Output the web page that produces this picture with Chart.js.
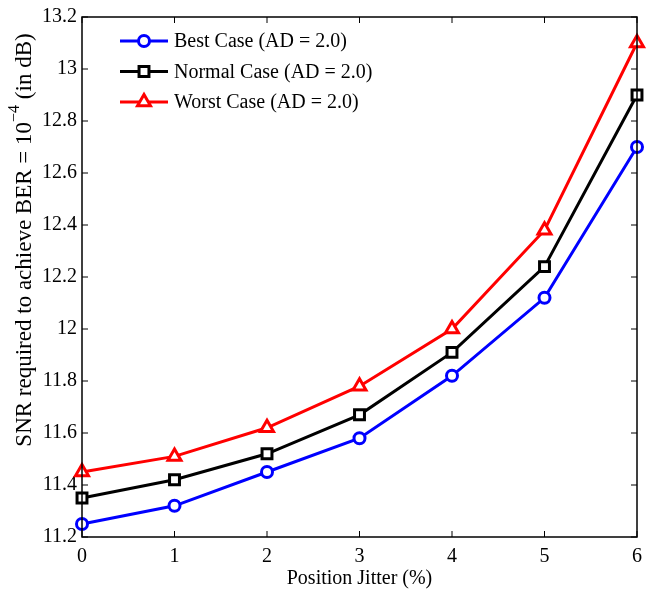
<!DOCTYPE html>
<html>
<head>
<meta charset="utf-8">
<script src="https://cdn.jsdelivr.net/npm/chart.js@4/dist/chart.umd.min.js"></script>
<style>
  html, body { margin: 0; padding: 0; background: #fff; }
  #wrap { width: 665px; height: 597px; }
</style>
</head>
<body>
<div id="wrap"><canvas id="myChart" width="665" height="597"></canvas></div>
<script>
/*** Data ***/
const jitter = [0, 1, 2, 3, 4, 5, 6];
const bestCase = [11.25, 11.32, 11.45, 11.58, 11.82, 12.12, 12.70];
const normalCase = [11.35, 11.42, 11.52, 11.67, 11.91, 12.24, 12.90];
const worstCase = [11.45, 11.51, 11.62, 11.78, 12.00, 12.38, 13.10];
const seriesLabels = ["Best Case (AD = 2.0)", "Normal Case (AD = 2.0)", "Worst Case (AD = 2.0)"];
const yMin = 11.2, yMax = 13.2, yStep = 0.2;

const FONT = "'Liberation Serif', 'Times New Roman', serif";

function toPoints(values) {
    return jitter.map((x, i) => ({ x: x, y: values[i] }));
}

// frame, inner ticks, y title and legend
const decorPlugin = {
    id: "decor",
    afterDraw(chart) {
        const ctx = chart.ctx;
        const a = chart.chartArea;
        const xs = chart.scales.x, ys = chart.scales.y;
        ctx.save();
        ctx.strokeStyle = "#000";
        ctx.lineWidth = 1.5;
        ctx.strokeRect(a.left, a.top, a.right - a.left, a.bottom - a.top);

        // inner ticks
        ctx.lineWidth = 1;
        const tl = 6;
        ctx.beginPath();
        jitter.forEach((v) => {
            const px = xs.getPixelForValue(v);
            ctx.moveTo(px, a.bottom); ctx.lineTo(px, a.bottom - tl);
            ctx.moveTo(px, a.top); ctx.lineTo(px, a.top + tl);
        });
        for (let v = yMin; v <= yMax + 1e-9; v += yStep) {
            const py = ys.getPixelForValue(v);
            ctx.moveTo(a.left, py); ctx.lineTo(a.left + tl, py);
            ctx.moveTo(a.right, py); ctx.lineTo(a.right - tl, py);
        }
        ctx.stroke();

        // y axis title with superscript
        const main1 = "SNR required to achieve BER = 10";
        const sup = "\u22124";
        const main2 = " (in dB)";
        const big = "23px " + FONT, small = "16px " + FONT;
        ctx.fillStyle = "#000";
        ctx.font = big;
        const w1 = ctx.measureText(main1).width;
        const w3 = ctx.measureText(main2).width;
        ctx.font = small;
        const w2 = ctx.measureText(sup).width;
        const total = w1 + w2 + w3;
        ctx.translate(25, 240);
        ctx.rotate(-Math.PI / 2);
        ctx.textBaseline = "middle";
        ctx.textAlign = "left";
        let sx = -total / 2;
        ctx.font = big;
        ctx.fillText(main1, sx, 0);
        sx += w1;
        ctx.font = small;
        ctx.fillText(sup, sx, -10);
        sx += w2;
        ctx.font = big;
        ctx.fillText(main2, sx, 0);
        ctx.restore();

        // legend
        ctx.save();
        ctx.font = "20px " + FONT;
        ctx.textBaseline = "middle";
        chart.data.datasets.forEach((ds, i) => {
            const ly = 41 + i * 30.5;
            const x0 = 120, x1 = 168;
            ctx.strokeStyle = ds.borderColor;
            ctx.lineWidth = ds.borderWidth;
            ctx.beginPath();
            ctx.moveTo(x0, ly); ctx.lineTo(x1, ly);
            ctx.stroke();
            ctx.fillStyle = "#fff";
            ctx.strokeStyle = ds.pointBorderColor;
            ctx.lineWidth = ds.pointBorderWidth;
            Chart.helpers.drawPoint(ctx, {
                pointStyle: ds.pointStyle,
                radius: ds.pointRadius,
                borderWidth: ds.pointBorderWidth,
                rotation: 0
            }, (x0 + x1) / 2, ly);
            ctx.fillStyle = "#000";
            ctx.fillText(ds.label, 174, ly + 1);
        });
        ctx.restore();
    }
};

function makeDataset(label, values, color, style, radius) {
    return {
        label: label,
        data: toPoints(values),
        borderColor: color,
        backgroundColor: "#fff",
        pointBackgroundColor: "#fff",
        pointBorderColor: color,
        pointStyle: style,
        pointRadius: radius,
        pointBorderWidth: 3,
        borderWidth: 3,
        tension: 0,
        fill: false,
        clip: false
    };
}

function renderChart() {
    const ctx = document.getElementById("myChart").getContext("2d");
    window.myChart = new Chart(ctx, {
        type: "line",
        data: {
            datasets: [
                makeDataset(seriesLabels[0], bestCase, "#0000ff", "circle", 5.5),
                makeDataset(seriesLabels[1], normalCase, "#000000", "rect", 7),
                makeDataset(seriesLabels[2], worstCase, "#ff0000", "triangle", 7.5)
            ]
        },
        options: {
            responsive: false,
            animation: false,
            layout: { padding: { left: 0, right: 28, top: 12, bottom: 0 } },
            plugins: {
                legend: { display: false },
                tooltip: { enabled: false }
            },
            scales: {
                x: {
                    type: "linear",
                    min: 0,
                    max: 6,
                    grid: { display: false, drawTicks: false },
                    border: { display: false },
                    ticks: {
                        stepSize: 1,
                        color: "#000",
                        padding: 8,
                        font: { family: FONT, size: 20 }
                    },
                    title: {
                        display: true,
                        text: "Position Jitter (%)",
                        color: "#000",
                        padding: { top: 0, bottom: 6 },
                        font: { family: FONT, size: 20 }
                    },
                    afterFit(scale) { scale.height = 60; }
                },
                y: {
                    min: yMin,
                    max: yMax,
                    grid: { display: false, drawTicks: false },
                    border: { display: false },
                    ticks: {
                        stepSize: yStep,
                        color: "#000",
                        padding: 5,
                        font: { family: FONT, size: 20 },
                        callback: (v) => parseFloat(v.toFixed(1)).toString()
                    },
                    afterFit(scale) { scale.width = 82; }
                }
            }
        },
        plugins: [decorPlugin]
    });
}
renderChart();
</script>
</body>
</html>
